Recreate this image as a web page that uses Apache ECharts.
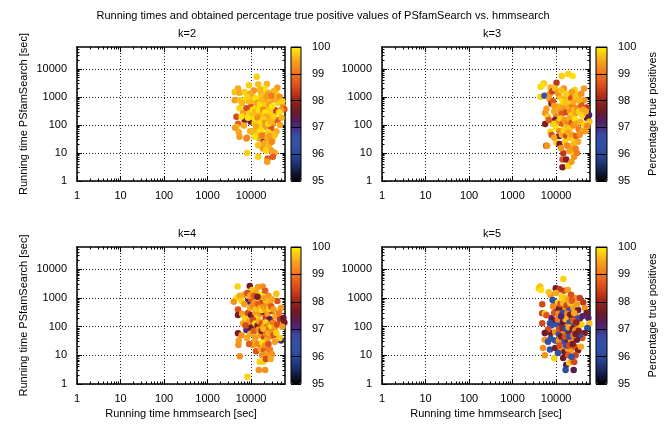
<!DOCTYPE html>
<html>
<head>
<meta charset="utf-8">
<script src="https://cdn.jsdelivr.net/npm/echarts@6/dist/echarts.min.js"></script>
<style>
html,body{margin:0;padding:0;background:#fff;}
#chart{width:666px;height:425px;}
</style>
</head>
<body>
<div id="chart"></div>
<script>
const mainTitle = 'Running times and obtained percentage true positive values of PSfamSearch vs. hmmsearch';
const panelTitles = ['k=2', 'k=3', 'k=4', 'k=5'];
const xAxisTitle = 'Running time hmmsearch [sec]';
const yAxisTitle = 'Running time PSfamSearch [sec]';
const cbTitle = 'Percentage true positives';
const axisRange = [1, 60000];
const cbRange = [95, 100];
const majorTicks = [1, 10, 100, 1000, 10000];
const minorTicks = [2,3,4,5,6,7,8,9,20,30,40,50,60,70,80,90,200,300,400,500,600,700,800,900,
  2000,3000,4000,5000,6000,7000,8000,9000,20000,30000,40000,50000];

// [hmmsearch sec, PSfamSearch sec, % true positives]
const k2 = [
[13500,5200,99.8],[14500,2800,99.7],[23000,2900,99.6],[40000,2100,99.4],[8900,2600,99.8],[5000,2000,99.5],[4200,1500,99.7],[11500,1700,99.3],
[5400,1400,99.5],[7100,1500,99.8],[17000,1300,99.7],[24000,1400,99.5],[38000,1300,99.8],[4200,760,99.4],[5400,760,99.7],[7100,760,99.9],
[11000,760,99.6],[15500,870,99.8],[19500,680,99.3],[28000,760,99.7],[41000,620,99.8],[54000,450,99.3],[58000,360,98.6],[7800,390,98.5],
[10000,450,98.6],[13200,450,99.8],[17000,450,99.5],[24000,390,99.7],[35000,340,98.5],[49000,340,99.4],[5400,390,99.8],[6500,260,99.4],
[9100,260,99.8],[13200,260,99.7],[18600,260,99.3],[26300,225,99.8],[38000,300,98.4],[7100,150,97.8],[9800,130,97.7],[5000,110,98.7],
[4600,85,99.8],[12000,110,99.8],[17000,130,99.5],[22400,150,99.7],[31600,110,99.4],[40700,150,98.7],[14500,74,99.8],[20400,85,99.4],
[28800,74,98.6],[38000,58,99.5],[5400,38,99.4],[7800,33,99.3],[13200,50,99.8],[15500,33,99.5],[19500,25,97.9],[24000,29,99.5],
[31600,33,99.8],[14500,19,99.7],[18600,14.5,99.4],[24000,17,99.8],[28800,12.6,99.4],[34700,10.2,99.5],[8000,10,99.8],[14500,7.3,99.8],
[24000,6.4,98.7],[31600,7.3,98.7],[23400,4.9,99.4],[4600,195,98.5],[4300,80,99.4],[10500,1100,99.6],[12500,900,99.9],[14000,600,99.4],
[16000,550,99.9],[18000,800,99.6],[21000,500,99.8],[22500,1000,99.4],[26000,550,99.4],[30000,450,99.9],[33000,800,99.5],[11000,350,99.9],
[12500,300,99.6],[15000,330,99.9],[16500,220,99.6],[19000,350,99.2],[21000,280,99.9],[23000,200,99.5],[27000,300,99.8],[30000,180,99.6],
[10500,200,99.6],[12000,170,99.9],[14000,180,99.3],[16000,120,99.9],[19000,160,99.8],[21000,120,99.4],[25000,110,99.9],[28000,130,99.6],
[33000,200,99.8],[44000,280,99.9],[50000,180,99.6],[46000,100,99.5],[11000,60,99.6],[13000,90,99.5],[17000,65,99.9],[21000,45,99.6],
[25000,55,99.8],[27000,40,99.4],[35000,45,99.7],[12000,38,99.9],[17500,42,99.1],[20000,22,99.5],[22000,12,99.8],[26000,20,99.6],
[30000,25,99.2],[9500,60,99.6],[8500,180,99.9],[9000,700,99.6],[9500,1300,99.5],[8200,1000,99.8],[6200,600,99.6],[6000,200,99.9],
[6800,95,99.5],[5200,55,99.5],[40000,900,99.6],[45000,1000,99.3],[52000,700,99.8],[33000,1600,99.6],[29000,1100,99.1],[20000,2000,99.9],
[16000,1800,99.6],[8000,35,99.2]
];
const k3 = [
[13500,5600,99.8],[19000,6500,99.8],[24000,5500,99.9],[5200,3000,99.7],[4400,2300,99.8],[4800,2600,99.9],[7400,2150,99.6],[10200,3200,98.3],
[15000,2000,99.3],[26700,1750,99.8],[44000,2000,99.4],[4400,1000,99.8],[5400,1100,96.5],[7000,850,99.4],[7800,580,97.7],[8500,700,98.6],
[12000,1000,99.7],[15000,800,99.4],[20000,1000,99.8],[22000,900,98.6],[28000,1000,99.7],[44000,750,99.4],[50000,420,98.4],[51000,175,97.6],
[57000,225,97.2],[58000,130,99.7],[5600,265,99.3],[6400,200,99.7],[5600,107,97.8],[7400,57,99.8],[7900,44,98.6],[5900,18,98.6],
[6200,18,99.3],[10200,23,99.8],[11800,40,97.7],[12000,21,97.7],[14600,9.7,98.3],[14000,5.9,98.6],[14000,3.1,97.8],[17000,5.9,97.8],
[19000,3.4,99.8],[22500,4.9,99.4],[26000,7.3,99.3],[22500,11,99.8],[30000,10,99.1],[24000,16,99.4],[9000,300,99.5],[10000,200,99.2],
[11000,450,99.6],[12500,320,99.4],[13500,250,98.7],[14500,500,99.5],[16000,380,99.3],[17000,280,98.5],[18000,600,99.8],[19500,420,99.5],
[21000,300,99.3],[22500,220,99.8],[24000,480,99.1],[26000,350,99.6],[28000,260,99.5],[31000,400,99.3],[34000,300,99.8],[38000,500,98.7],
[42000,350,99.5],[9500,150,97.6],[11000,130,99.3],[12500,170,99.8],[14000,110,98.7],[15500,150,99.4],[17000,90,99.7],[18500,130,99.2],
[20000,170,99.5],[21500,80,99.8],[23000,120,98.6],[25000,95,99.3],[27000,160,99.9],[30000,110,99.4],[33000,70,99.1],[36000,130,99.6],
[40000,60,99.5],[45000,100,99.8],[10000,80,99.9],[12000,60,99.2],[13500,45,99.5],[15000,65,99.8],[17000,40,98.5],[19000,55,99.5],
[21000,35,99.7],[23000,45,99.4],[26000,30,99.8],[29000,40,98.7],[32000,25,99.5],[35000,45,99.3],[16000,25,99.8],[18000,18,99.2],
[20000,12,99.4],[25000,20,99.6],[28000,14,99.1],[13000,15,99.3],[9000,35,99.5],[8500,110,99.8],[6800,150,98.7],[6000,380,99.4],
[7200,1300,99.3],[8200,1600,98.4],[9500,2000,99.7],[11000,1400,99.3],[13000,1700,99.7],[17000,1300,99.8],[23000,1500,99.4],[31000,1200,99.7],
[38000,1300,99.3],[9000,480,99.4],[14000,700,99.9],[16500,650,99.7],[25000,650,99.5],[33000,750,99.6],[40000,220,99.8],[48000,300,99.5],
[52000,90,99.2],[47000,60,99.4]
];
const k4 = [
[4900,2500,99.8],[9300,2600,97.6],[14400,2400,99.4],[18500,2500,99.3],[10500,1900,99.7],[7000,1300,99.4],[8200,1500,98.6],[13000,1600,99.5],
[16500,1300,99.9],[21000,1800,98.7],[25000,1200,99.3],[38000,1400,99.7],[4600,1000,99.9],[5500,1200,99.5],[8500,760,97.1],[4000,740,99.3],
[6000,800,99.8],[10000,900,98.6],[12000,700,99.3],[15000,900,99.7],[18000,700,98.4],[22000,800,99.8],[27000,650,99.5],[40000,780,98.6],
[48000,450,99.4],[5000,400,98.6],[5000,255,97.7],[6200,280,99.4],[7200,200,99.8],[8500,300,98.5],[10000,250,97.6],[12500,300,99.4],
[14000,200,99.8],[16500,280,99.3],[19000,330,97.7],[21500,200,98.4],[24000,280,99.4],[27000,180,97.3],[30000,350,98.5],[36000,230,99.5],
[46000,180,98.3],[55000,200,97.5],[58000,140,97.7],[5000,59,97.6],[7800,76,97.1],[10000,95,97.5],[24500,76,97.0],[13500,60,99.8],
[17000,50,99.3],[20000,40,98.4],[23000,35,99.5],[28000,45,99.3],[49000,33,97.0],[45000,40,99.8],[5200,33,99.4],[5100,23,99.3],
[11000,23,99.4],[13000,14,98.6],[16500,17,99.5],[20000,15,98.6],[18000,10,99.3],[23000,12,99.4],[27000,16,99.1],[30000,11,99.3],
[5500,9.2,99.3],[15800,6.0,99.8],[19000,6,99.8],[15000,3.1,99.3],[21000,3.1,99.3],[8200,1.8,99.8],[22000,7.5,98.5],[28000,7.5,99.5],
[9500,450,99.5],[11000,550,99.2],[13000,420,99.7],[14500,600,98.7],[16000,450,99.5],[17500,380,99.9],[19500,500,99.2],[21000,400,99.5],
[23500,500,99.3],[26000,420,99.8],[29000,500,98.7],[33000,400,99.4],[9000,150,99.4],[11000,170,98.5],[12500,130,99.9],[14000,110,97.8],
[15500,150,99.5],[17500,130,98.6],[19500,100,99.4],[21500,140,99.8],[23000,95,98.6],[26000,120,99.4],[29000,100,99.9],[32000,140,99.1],
[35000,90,99.4],[40000,120,98.5],[9500,55,99.5],[11500,70,98.7],[12500,40,99.4],[15000,80,99.3],[17500,70,97.8],[19000,85,99.6],
[22000,55,99.1],[25000,60,99.5],[30000,65,99.3],[33000,50,98.6],[38000,60,99.8],[12000,30,99.5],[14500,25,99.2],[18000,28,99.9],
[21000,22,99.3],[25000,25,98.6],[35000,30,99.4],[6500,130,99.5],[7500,110,98.5],[6000,50,99.3],[8000,40,99.5],[9000,25,98.7],
[7000,600,99.4],[9500,1200,99.5],[11500,1200,98.7],[14000,1100,97.7],[20000,1000,99.4],[30000,900,99.5],[44000,300,99.1],[52000,100,99.4]
];
const k5 = [
[14600,4600,99.8],[4000,2200,99.8],[4300,2500,99.7],[4500,1900,99.9],[9800,2200,97.7],[15000,1800,98.5],[18500,1900,99.4],[12000,2000,98.3],
[7500,1300,99.3],[8300,850,96.3],[9000,750,96.4],[13500,1100,99.8],[16500,1000,99.7],[19500,850,99.4],[27000,1000,99.3],[35000,1000,98.4],
[4800,600,98.5],[4800,293,98.4],[5500,290,99.8],[10000,430,97.6],[13500,430,97.7],[16500,430,99.3],[20000,380,96.3],[25000,450,99.4],
[32000,380,97.6],[7800,200,97.1],[9000,160,97.7],[12500,200,97.8],[15500,220,99.4],[19000,170,97.7],[23000,210,98.5],[28000,230,98.4],
[35000,190,97.7],[40000,230,97.1],[4800,131,98.5],[7200,131,96.2],[7800,110,96.3],[10500,120,96.3],[13500,110,97.1],[18000,120,99.3],
[23000,120,97.6],[27000,110,96.3],[31000,95,99.3],[38000,120,99.8],[7500,60,97.6],[9500,65,99.3],[11500,55,96.3],[15000,65,99.3],
[19000,60,97.7],[22500,70,97.1],[5500,35,99.3],[6500,30,96.3],[7500,38,96.4],[9500,33,96.3],[11500,33,99.3],[15500,30,96.2],
[18500,30,97.7],[22000,33,99.3],[5000,18,99.3],[7200,16,96.3],[9500,18,97.7],[13000,16,99.3],[15500,13,97.7],[18500,17,99.4],
[22000,15,99.4],[5500,10,99.3],[9100,7.9,99.8],[14500,8,97.6],[17000,4.6,97.2],[16500,3.1,96.2],[25300,3.1,97.3],[20000,5.5,99.8],
[23000,6.5,99.3],[26000,5.8,98.5],[10000,1500,99.5],[11000,700,99.8],[12500,600,98.6],[14500,650,99.6],[17500,550,98.4],[21000,650,99.7],
[23000,800,98.7],[30000,600,99.4],[42000,700,98.3],[46000,450,99.3],[50000,300,97.6],[55000,200,97.2],[58000,130,99.7],[52000,90,96.3],
[45000,60,97.7],[40000,40,98.6],[35000,50,96.3],[30000,35,97.6],[27000,20,98.7],[32000,15,97.8],[28000,10,98.4],[37000,20,99.5],
[9000,300,98.6],[11500,280,99.3],[14000,300,96.3],[18000,280,99.2],[21000,260,97.8],[26000,300,99.5],[30000,180,96.4],[11000,180,99.1],
[14500,150,97.5],[16500,180,99.6],[20500,140,96.4],[25000,160,98.7],[29000,140,97.9],[12000,85,98.5],[14000,90,97.9],[16500,85,96.3],
[19500,95,99.5],[24000,85,97.7],[27500,75,99.2],[33000,70,97.8],[13000,45,97.7],[16000,45,98.6],[20000,45,96.3],[25000,50,99.1],
[28000,55,97.6],[12000,22,98.6],[17000,22,96.4],[20000,22,98.5],[24000,25,97.7],[11000,12,96.3],[19000,10,98.7],[22500,9,96.4],
[6000,250,98.6],[6500,80,98.5],[5500,60,97.6],[8500,500,99.2],[6800,1600,99.7],[22000,1300,98.6],[13000,230,97.1]
];
const panelData = [k2, k3, k4, k5];

// palette 95 -> 100 in 0.25 steps
const palette = ['#000000','#0c1430','#18285a','#223a80','#2a4898','#3050a4','#3452a8','#3a48a0','#482c80','#561c58',
  '#661a30','#7c1c20','#98261c','#b8341a','#d44a1a','#e65e1c','#f0721e','#f48c1e','#f8a81c','#fcc814','#fff200'];

const FONT = '"Liberation Sans", Arial, Helvetica, sans-serif';
const BLACK = '#000';

const plots = [
  {left: 77, top: 47, width: 208, height: 134},
  {left: 382, top: 47, width: 208, height: 134},
  {left: 77, top: 247, width: 208, height: 137},
  {left: 382, top: 247, width: 208, height: 137}
];
const cbs = [
  {left: 291, top: 47, width: 10, height: 134},
  {left: 596, top: 47, width: 11, height: 134},
  {left: 291, top: 247, width: 10, height: 137},
  {left: 596, top: 247, width: 11, height: 137}
];

const grids = [], xAxes = [], yAxes = [], series = [], visualMaps = [], titles = [];

titles.push({text: mainTitle, left: 318, top: 5, textAlign: 'center',
  textStyle: {fontFamily: FONT, fontSize: 11, fontWeight: 'normal', color: BLACK}});

const plainNum = v => String(Math.round(v));

function logAxis(gi, pos, kind, extra) {
  const a = {
    type: 'log', logBase: 10, gridIndex: gi, position: pos,
    min: axisRange[0], max: axisRange[1],
    axisLine: {show: kind === 'major', onZero: false, lineStyle: {color: BLACK, width: 1.5}},
    axisTick: {show: true, inside: true, length: kind === 'major' ? 5 : 2.5,
      customValues: kind === 'major' ? majorTicks : minorTicks,
      lineStyle: {color: BLACK, width: 1}},
    axisLabel: {show: false},
    splitLine: {show: false},
    minorTick: {show: false}
  };
  return Object.assign(a, extra || {});
}

for (let i = 0; i < 4; i++) {
  const p = plots[i], c = cbs[i];
  grids.push(Object.assign({containLabel: false}, p));
  const gi = i;
  const isBottom = i >= 2, isLeft = (i % 2 === 0);
  const xMainIdx = xAxes.length;
  xAxes.push(logAxis(gi, 'bottom', 'major', {
    axisLabel: {show: true, customValues: majorTicks, formatter: plainNum, color: BLACK, fontFamily: FONT, fontSize: 11, margin: 9},
    splitLine: {show: true, lineStyle: {color: '#222', type: [1, 2], width: 1}},
    name: isBottom ? xAxisTitle : '', nameLocation: 'middle', nameGap: 24,
    nameTextStyle: {fontFamily: FONT, fontSize: 11, color: BLACK}
  }));
  xAxes.push(logAxis(gi, 'top', 'major'));
  xAxes.push(logAxis(gi, 'bottom', 'minor'));
  xAxes.push(logAxis(gi, 'top', 'minor'));
  const yMainIdx = yAxes.length;
  yAxes.push(logAxis(gi, 'left', 'major', {
    axisLabel: {show: true, customValues: majorTicks, formatter: plainNum, color: BLACK, fontFamily: FONT, fontSize: 11, margin: 10},
    splitLine: {show: true, lineStyle: {color: '#222', type: [1, 2], width: 1}},
    name: isLeft ? yAxisTitle : '', nameLocation: 'middle', nameGap: 48, nameRotate: 90,
    nameTextStyle: {fontFamily: FONT, fontSize: 11, color: BLACK}
  }));
  yAxes.push(logAxis(gi, 'right', 'major'));
  yAxes.push(logAxis(gi, 'left', 'minor'));
  yAxes.push(logAxis(gi, 'right', 'minor'));

  series.push({
    type: 'scatter', xAxisIndex: xMainIdx, yAxisIndex: yMainIdx,
    data: panelData[i], symbol: 'circle', symbolSize: 6.5,
    itemStyle: {opacity: 1}, encode: {x: 0, y: 1}, animation: false, z: 3
  });

  visualMaps.push({
    type: 'continuous', min: cbRange[0], max: cbRange[1], dimension: 2, seriesIndex: i,
    calculable: false, orient: 'vertical', left: c.left, top: c.top,
    itemWidth: c.width, itemHeight: c.height, padding: 0, text: null, showLabel: false,
    inRange: {color: palette}, hoverLink: false
  });

  titles.push({text: panelTitles[i], left: p.left + p.width / 2 + 1, top: p.top - 24, textAlign: 'center',
    textStyle: {fontFamily: FONT, fontSize: 11, fontWeight: 'normal', color: BLACK}});
}

for (let i = 0; i < 4; i++) {
  const c = cbs[i];
  const gi = grids.length;
  grids.push(Object.assign({show: true, borderColor: BLACK, borderWidth: 1, backgroundColor: 'transparent', z: 10}, c));
  xAxes.push({type: 'value', gridIndex: gi, min: 0, max: 1, show: false});
  yAxes.push({
    type: 'value', gridIndex: gi, position: 'right', min: cbRange[0], max: cbRange[1], interval: 1, z: 10,
    axisLine: {show: false}, axisTick: {show: false},
    splitLine: {show: true, lineStyle: {color: BLACK, width: 1}},
    axisLabel: {show: true, color: BLACK, fontFamily: FONT, fontSize: 11, margin: 11},
    name: (i % 2 === 1) ? cbTitle : '', nameLocation: 'middle', nameRotate: 90, nameGap: 40,
    nameTextStyle: {fontFamily: FONT, fontSize: 11, color: BLACK}
  });
}

const chart = echarts.init(document.getElementById('chart'), null, {renderer: 'canvas'});
chart.setOption({
  backgroundColor: '#fff',
  animation: false,
  title: titles,
  grid: grids,
  xAxis: xAxes,
  yAxis: yAxes,
  visualMap: visualMaps,
  series: series
});
</script>
</body>
</html>
